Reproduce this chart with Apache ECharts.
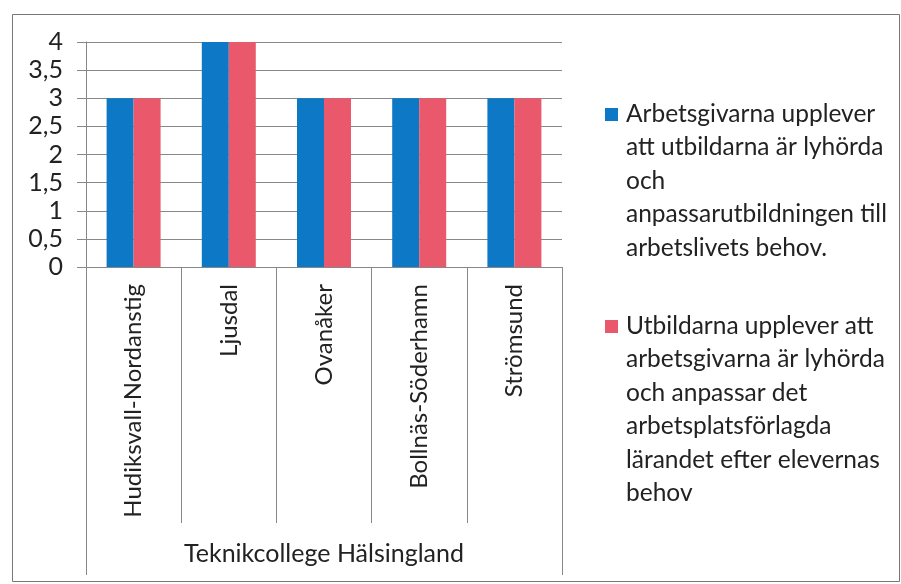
<!DOCTYPE html>
<html><head><meta charset="utf-8">
<script src="https://cdn.jsdelivr.net/npm/echarts@6/dist/echarts.min.js"></script>
<style>html,body{margin:0;padding:0;background:#fff}#c{width:901px;height:584px}</style>
</head><body><div id="c"></div>
<script>
const categories = ['Hudiksvall-Nordanstig','Ljusdal','Ovanåker','Bollnäs-Söderhamn','Strömsund'];
const groupLabel = ['Teknikcollege Hälsingland'];
const seriesNames = [
  'Arbetsgivarna upplever att utbildarna är lyhörda och anpassarutbildningen till arbetslivets behov.',
  'Utbildarna upplever att arbetsgivarna är lyhörda och anpassar det arbetsplatsförlagda lärandet efter elevernas behov'
];
const legendLines = [
  ['Arbetsgivarna upplever','att utbildarna är lyhörda','och','anpassarutbildningen till','arbetslivets behov.'],
  ['Utbildarna upplever att','arbetsgivarna är lyhörda','och anpassar det','arbetsplatsförlagda','lärandet efter elevernas','behov']
];
const employers = [3, 4, 3, 3, 3];
const educators = [3, 4, 3, 3, 3];
const colors = ['#0d79c6', '#ea586c'];
const FONT = 'Lato';
const TXT = '#222';

const chart = echarts.init(document.getElementById('c'));
const legendGraphics = [];
const legendTop = [108, 320];
legendLines.forEach((lines, i) => {
  legendGraphics.push({type:'rect', left:605, top:legendTop[i], shape:{width:13,height:13}, style:{fill:colors[i]}});
  legendGraphics.push({type:'text', left:626, top:legendTop[i]-11, style:{text:lines.join('\n'), font:'24.5px '+FONT, fill:TXT, lineHeight:33.5}});
});
chart.setOption({
  animation:false,
  textStyle:{fontFamily:FONT},
  grid:{left:86, right:339, top:42, bottom:317},
  xAxis:[{
    type:'category', data:categories,
    axisLine:{show:true, lineStyle:{color:'#888'}},
    axisTick:{show:true, alignWithLabel:false, length:256, lineStyle:{color:'#888', width:1}},
    axisLabel:{rotate:90, margin:17, fontSize:24, color:TXT, fontFamily:FONT}
  },{
    type:'category', data:groupLabel, position:'bottom',
    axisLine:{show:false},
    axisTick:{show:true, length:308, lineStyle:{color:'#888', width:1}},
    axisLabel:{margin:274, fontSize:25, color:TXT, fontFamily:FONT}
  }],
  yAxis:{
    type:'value', min:0, max:4, interval:0.5,
    axisLine:{show:true, lineStyle:{color:'#888'}},
    axisTick:{show:true, inside:false, length:9, lineStyle:{color:'#888', width:1}},
    splitLine:{show:true, lineStyle:{color:'#888'}},
    axisLabel:{margin:23, fontSize:25, color:TXT, fontFamily:FONT,
      formatter:v => String(v).replace('.', ',')}
  },
  series:[
    {name:seriesNames[0], type:'bar', data:employers, itemStyle:{color:colors[0]}, barWidth:27, barGap:'0%'},
    {name:seriesNames[1], type:'bar', data:educators, itemStyle:{color:colors[1]}, barWidth:27, barGap:'0%'}
  ],
  graphic:[{type:'rect', left:10, top:12, shape:{width:887, height:567}, style:{fill:null, stroke:'#777', lineWidth:1}, silent:true}].concat(legendGraphics)
});
</script></body></html>
